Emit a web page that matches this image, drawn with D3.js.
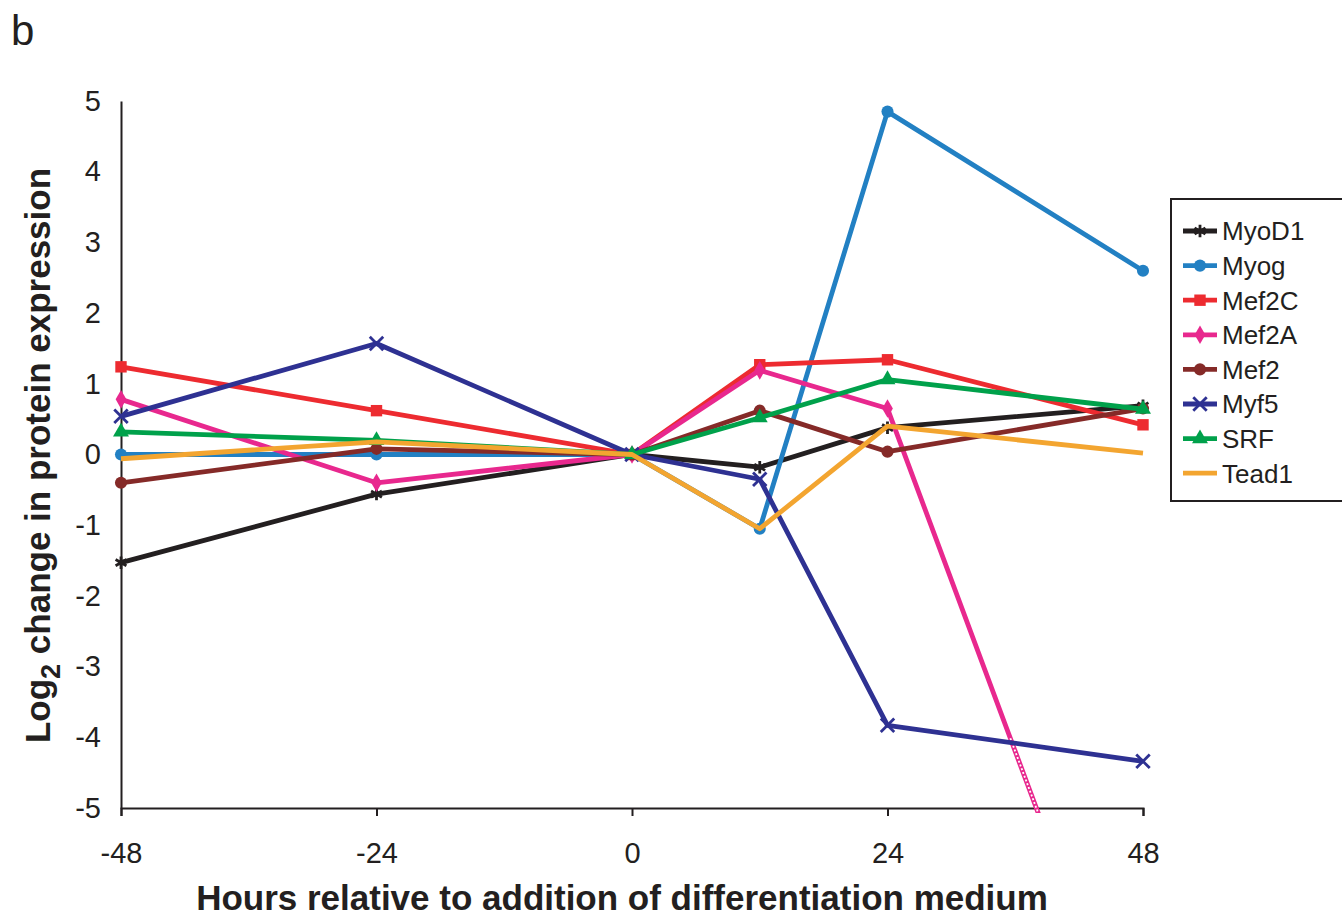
<!DOCTYPE html>
<html>
<head>
<meta charset="utf-8">
<script src="https://cdn.jsdelivr.net/npm/d3@7"></script>
<style>
  body { margin: 0; background: #fff; }
  svg { display: block; font-family: "Liberation Sans", Arial, sans-serif; }
</style>
</head>
<body>
<div id="chart"></div>
<script>
// hours relative to differentiation medium
let hours = [-48, -24, 0, 12, 24, 48]
let xTicks = [-48, -24, 0, 24, 48]
let yTicks = [5, 4, 3, 2, 1, 0, -1, -2, -3, -4, -5]

let seriesNames = ["MyoD1", "Myog", "Mef2C", "Mef2A", "Mef2", "Myf5", "SRF", "Tead1"]
let myoD1 = [-1.53, -0.56, 0, -0.18, 0.38, 0.69]
let myog  = [0, 0, 0, -1.05, 4.85, 2.6]
let mef2C = [1.24, 0.62, 0, 1.27, 1.34, 0.42]
let mef2A = [0.78, -0.4, 0, 1.19, 0.65, -9.05]
let mef2  = [-0.4, 0.08, 0, 0.62, 0.04, 0.65]
let myf5  = [0.54, 1.57, 0, -0.35, -3.83, -4.34]
let srf   = [0.32, 0.2, 0, 0.52, 1.06, 0.64]
let tead1 = [-0.06, 0.18, 0, -1.05, 0.4, 0.02]

let seriesColors = ["#231f20", "#2280c3", "#ed2b30", "#e8288e", "#852a28", "#2e3192", "#00a14b", "#f3a530"]
let seriesMarkers = ["asterisk", "circle", "square", "diamond", "circle", "x", "triangle", "none"]

let allValues = [myoD1, myog, mef2C, mef2A, mef2, myf5, srf, tead1]
let series = seriesNames.map((name, i) => ({
  name: name,
  color: seriesColors[i],
  marker: seriesMarkers[i],
  points: hours.map((h, j) => [h, allValues[i][j]])
}))

let width = 1342, height = 920
let margin = { top: 101, right: 199, bottom: 112, left: 121 }
let ink = "#231f20"

let svg = d3.select("#chart").append("svg")
  .attr("width", width)
  .attr("height", height)

let x = d3.scaleLinear().domain([-48, 48]).range([margin.left, width - margin.right])
let y = d3.scaleLinear().domain([-5, 5]).range([height - margin.bottom, margin.top])

// panel letter
svg.append("text")
  .attr("x", 11)
  .attr("y", 45)
  .attr("font-size", 42)
  .attr("fill", ink)
  .text("b")

// clip so Mef2A stops at the bottom axis
let defs = svg.append("defs")
defs.append("clipPath").attr("id", "plotClip")
  .append("rect")
  .attr("x", 0).attr("y", 0)
  .attr("width", width - 190).attr("height", y(-5) + 5)
defs.append("clipPath").attr("id", "dotClip")
  .append("rect")
  .attr("x", 0).attr("y", y(-4))
  .attr("width", width - 190).attr("height", y(-5) + 5 - y(-4))

// axes
let xAxis = d3.axisBottom(x).tickValues(xTicks).tickSize(8).tickPadding(26).tickFormat(d => String(d))
let yAxis = d3.axisLeft(y).tickValues(yTicks).tickSize(0).tickPadding(20).tickFormat(d => String(d))

let gX = svg.append("g")
  .attr("transform", "translate(0," + y(-5) + ")")
  .call(xAxis)
gX.select(".domain").attr("stroke", ink).attr("stroke-width", 2)
gX.selectAll(".tick line").attr("stroke", ink).attr("stroke-width", 2)
gX.selectAll("text").attr("font-size", 29).attr("fill", ink).attr("font-family", "Liberation Sans, Arial, sans-serif")

let gY = svg.append("g")
  .attr("transform", "translate(" + x(-48) + ",0)")
  .call(yAxis)
gY.select(".domain").attr("stroke", ink).attr("stroke-width", 2)
gY.selectAll("text").attr("font-size", 29).attr("fill", ink).attr("font-family", "Liberation Sans, Arial, sans-serif")

// axis titles
svg.append("text")
  .attr("x", 622)
  .attr("y", 910)
  .attr("text-anchor", "middle")
  .attr("font-size", 35)
  .attr("font-weight", "bold")
  .attr("fill", ink)
  .text("Hours relative to addition of differentiation medium")

let yTitle = svg.append("text")
  .attr("transform", "translate(50," + (y(0) + 1) + ") rotate(-90)")
  .attr("text-anchor", "middle")
  .attr("font-size", 35)
  .attr("font-weight", "bold")
  .attr("fill", ink)
yTitle.append("tspan").text("Log")
yTitle.append("tspan").attr("dy", 10).attr("font-size", 27).text("2")
yTitle.append("tspan").attr("dy", -10).text(" change in protein expression")

// marker shapes
let symbolFor = {
  circle: d3.symbol().type(d3.symbolCircle).size(115),
  square: d3.symbol().type(d3.symbolSquare).size(130),
  diamond: d3.symbol().type(d3.symbolDiamond).size(100),
  triangle: d3.symbol().type(d3.symbolTriangle).size(110),
  asterisk: d3.symbol().type(d3.symbolAsterisk).size(110),
  x: d3.symbol().type(d3.symbolX).size(120)
}
let strokeMarker = m => m === "asterisk" || m === "x"

let drawMarker = (g, marker, color) => {
  if (marker === "none") return
  g.append("path")
    .attr("d", symbolFor[marker]())
    .attr("fill", strokeMarker(marker) ? "none" : color)
    .attr("stroke", strokeMarker(marker) ? color : "none")
    .attr("stroke-width", strokeMarker(marker) ? 2.8 : 0)
}

let line = d3.line().x(d => x(d[0])).y(d => y(d[1]))

let plot = svg.append("g").attr("clip-path", "url(#plotClip)")

series.forEach(s => {
  let g = plot.append("g")
  g.append("path")
    .datum(s.points)
    .attr("d", line)
    .attr("fill", "none")
    .attr("stroke", s.color)
    .attr("stroke-width", 4.8)
    .attr("stroke-linejoin", "round")

  if (s.name === "Mef2A") {
    // the dotted look of the segment running past the axis
    plot.append("path")
      .datum(s.points)
      .attr("clip-path", "url(#dotClip)")
      .attr("d", line)
      .attr("fill", "none")
      .attr("stroke", "#fff")
      .attr("stroke-width", 1.8)
      .attr("stroke-dasharray", "2,2")
  }

  s.points.forEach(p => {
    if (p[1] < -5) return
    let m = g.append("g").attr("transform", "translate(" + x(p[0]) + "," + y(p[1]) + ")")
    drawMarker(m, s.marker, s.color)
  })
})

// legend
let legend = svg.append("g").attr("transform", "translate(1171,199)")
legend.append("rect")
  .attr("x", 0).attr("y", 0)
  .attr("width", 200).attr("height", 302)
  .attr("fill", "#fff")
  .attr("stroke", ink)
  .attr("stroke-width", 2)

series.forEach((s, i) => {
  let row = legend.append("g").attr("transform", "translate(0," + (32 + i * 34.6) + ")")
  row.append("line")
    .attr("x1", 12).attr("x2", 46)
    .attr("y1", 0).attr("y2", 0)
    .attr("stroke", s.color)
    .attr("stroke-width", 4.8)
  let m = row.append("g").attr("transform", "translate(29,0)")
  drawMarker(m, s.marker, s.color)
  row.append("text")
    .attr("x", 51)
    .attr("y", 0)
    .attr("dy", "0.36em")
    .attr("font-size", 26)
    .attr("fill", ink)
    .text(s.name)
})
</script>
</body>
</html>
